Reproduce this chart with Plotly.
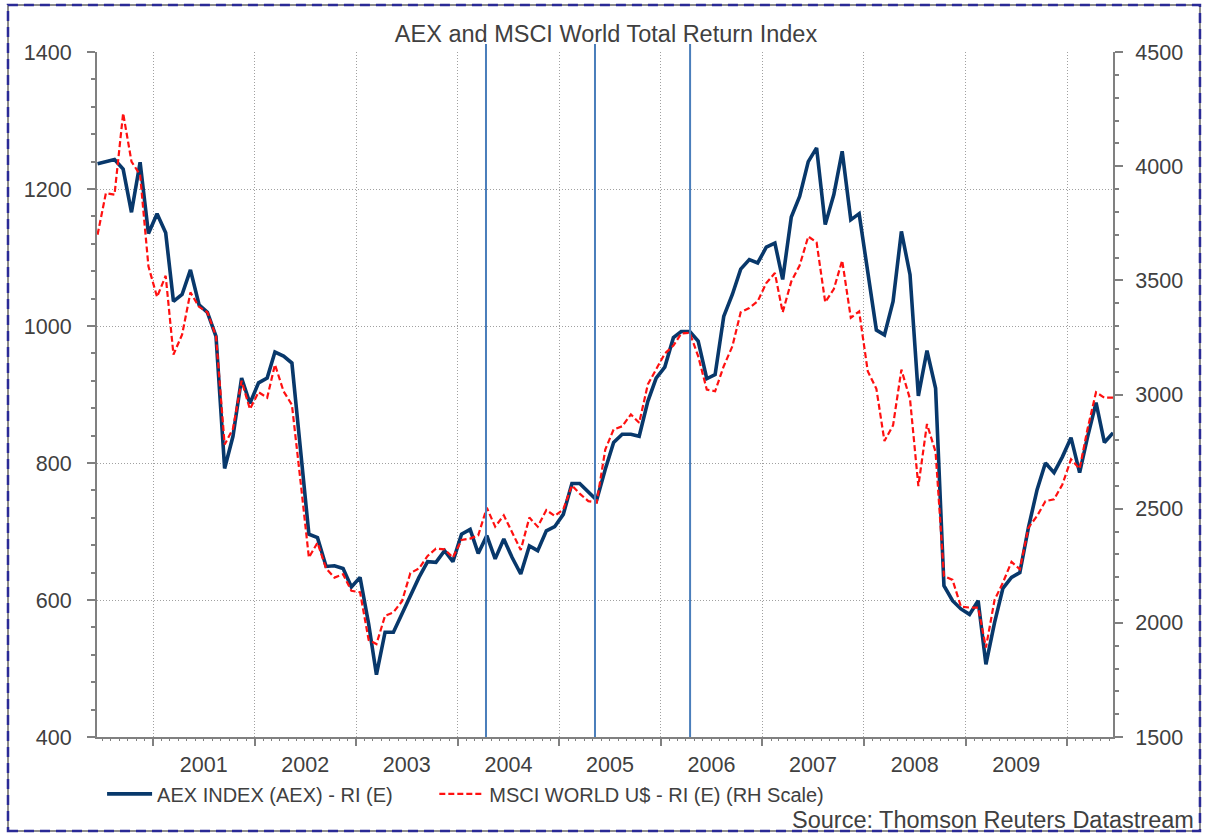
import plotly.graph_objects as go
import pandas as pd

# ---- data (monthly, mid-month, Jun 2000 - Jun 2010) ----
start_month = "2000-06-15"
aex = [1237, 1240, 1243, 1229, 1166, 1239, 1135, 1164, 1136, 1036,
       1046, 1082, 1031, 1020, 985, 792, 839, 924, 887, 917,
       924, 962, 956, 946, 815, 696, 691, 649, 650, 646,
       619, 633, 565, 491, 553, 553, 580, 607, 633, 656,
       655, 672, 656, 696, 703, 668, 694, 660, 689, 662,
       638, 679, 672, 701, 707, 725, 770, 770, 757, 746,
       791, 830, 842, 842, 839, 890, 924, 940, 983, 992,
       992, 978, 923, 929, 1014, 1046, 1083, 1097, 1092, 1115,
       1121, 1068, 1159, 1189, 1240, 1260, 1148, 1192, 1255, 1155,
       1164, 1082, 994, 987, 1036, 1138, 1075, 898, 964, 909,
       621, 599, 587, 579, 599, 506, 567, 617, 633, 640,
       706, 761, 800, 786, 809, 837, 786, 837, 888, 830, 844]
msci = [3700, 3882, 3875, 4232, 4020, 3962, 3561, 3427, 3520, 3175,
        3262, 3447, 3384, 3360, 3255, 2781, 2850, 3060, 2936, 3010,
        2986, 3131, 3014, 2955, 2620, 2286, 2351, 2238, 2198, 2213,
        2140, 2134, 1925, 1907, 2031, 2046, 2095, 2218, 2238, 2293,
        2325, 2322, 2286, 2363, 2369, 2383, 2504, 2421, 2471, 2395,
        2319, 2461, 2421, 2494, 2468, 2497, 2602, 2566, 2533, 2526,
        2759, 2847, 2861, 2913, 2876, 3044, 3109, 3179, 3214, 3267,
        3270, 3168, 3022, 3014, 3124, 3211, 3360, 3379, 3408, 3488,
        3532, 3360, 3495, 3565, 3692, 3666, 3404, 3462, 3587, 3336,
        3364, 3102, 3025, 2796, 2865, 3109, 2980, 2599, 2871, 2748,
        2205, 2188, 2071, 2067, 2067, 1892, 2100, 2176, 2267, 2235,
        2417, 2468, 2533, 2541, 2606, 2716, 2675, 2847, 3010, 2986, 2986]
event_dates = ["2004-04-12", "2005-05-09", "2006-04-16"]
year_labels = ["2001", "2002", "2003", "2004", "2005", "2006", "2007", "2008", "2009"]
x_range = ["2000-06-13", "2010-06-15"]

dates = [pd.Timestamp(start_month) + pd.DateOffset(months=i) for i in range(len(aex))]
year_mid = [f"{y}-07-02" for y in year_labels]

FONT = "Liberation Sans, Arial, sans-serif"
TXT = "#404040"
AX = "#808080"
GRID = "#a0a0a0"

fig = go.Figure()
fig.add_trace(go.Scatter(x=dates, y=aex, mode="lines", name="AEX INDEX (AEX) - RI (E)",
                         line=dict(color="#08386b", width=3.6), yaxis="y", xaxis="x", legend="legend"))
fig.add_trace(go.Scatter(x=dates, y=msci, mode="lines", name="MSCI WORLD U$ - RI (E) (RH Scale)",
                         line=dict(color="#ff1010", width=2.2, dash="6px,3px"), yaxis="y2", xaxis="x",
                         legend="legend2"))
# invisible trace carrying the monthly tick axis
fig.add_trace(go.Scatter(x=[dates[0]], y=[aex[0]], mode="markers", marker=dict(opacity=0),
                         showlegend=False, hoverinfo="skip", xaxis="x2", yaxis="y"))

for d in event_dates:
    fig.add_shape(type="line", xref="x", yref="paper", x0=d, x1=d, y0=0, y1=1.0117,
                  line=dict(color="#4a7ebb", width=2))

# outer frame: grey solid + navy dashes
fig.add_shape(type="rect", xref="paper", yref="paper", x0=-0.0876, x1=1.0856, y0=-0.1372, y1=1.0686,
              line=dict(color="#8c8c8c", width=2), layer="below")
fig.add_shape(type="rect", xref="paper", yref="paper", x0=-0.0876, x1=1.0856, y0=-0.1372, y1=1.0686,
              line=dict(color="#2a2a96", width=2.5, dash="10px,6px"), layer="below")

fig.add_annotation(text="Source: Thomson Reuters Datastream", xref="paper", yref="paper",
                   x=1.0817, y=-0.121, xanchor="right", yanchor="middle", showarrow=False,
                   font=dict(family=FONT, size=23.5, color=TXT))

legend_common = dict(orientation="h", xanchor="left", yanchor="middle", y=-0.083,
                     font=dict(family=FONT, size=20, color=TXT), itemwidth=45,
                     bgcolor="rgba(0,0,0,0)")

fig.update_layout(
    width=1208, height=834,
    margin=dict(l=97, r=95, t=52, b=97),
    paper_bgcolor="white", plot_bgcolor="white",
    font=dict(family=FONT, color=TXT),
    title=dict(text="AEX and MSCI World Total Return Index", x=0.501, xref="paper",
               y=1 - 34 / 834, yref="container", xanchor="center", yanchor="middle",
               font=dict(family=FONT, size=23.5, color=TXT)),
    showlegend=True,
    legend=dict(x=0.005, **legend_common),
    legend2=dict(x=0.332, **legend_common),
    xaxis=dict(type="date", range=x_range, tickmode="array", tickvals=year_mid, ticktext=year_labels,
               ticks="outside", ticklen=7, tickcolor="rgba(0,0,0,0)", showgrid=False,
               tickfont=dict(family=FONT, size=21.5, color=TXT),
               showline=True, linecolor=AX, linewidth=2, zeroline=False,
               minor=dict(dtick="M12", tick0="2001-01-01", ticks="outside", ticklen=7,
                          tickcolor=AX, tickwidth=1.5, showgrid=True, gridcolor=GRID,
                          griddash="1px,2px", gridwidth=1)),
    xaxis2=dict(type="date", range=x_range, overlaying="x", side="bottom", anchor="y",
                showticklabels=False, tickmode="linear", tick0="2000-01-01", dtick="M1",
                ticks="outside", ticklen=3, tickcolor=AX, tickwidth=1, showgrid=False,
                showline=False, zeroline=False),
    yaxis=dict(range=[400, 1400], tickmode="linear", tick0=400, dtick=200,
               ticks="outside", ticklen=8, tickcolor=AX, tickwidth=1.5,
               showline=True, linecolor=AX, linewidth=2, zeroline=False,
               showgrid=True, gridcolor=GRID, griddash="1px,2px", gridwidth=1,
               tickfont=dict(family=FONT, size=21.5, color=TXT), ticklabelstandoff=11,
               minor=dict(dtick=40, tick0=400, ticks="outside", ticklen=4, tickcolor=AX, showgrid=False)),
    yaxis2=dict(range=[1500, 4500], tickmode="linear", tick0=1500, dtick=500, overlaying="y",
                side="right", ticks="outside", ticklen=8, tickcolor=AX, tickwidth=1.5,
                showline=True, linecolor=AX, linewidth=2, zeroline=False, showgrid=False,
                tickfont=dict(family=FONT, size=21.5, color=TXT), ticklabelstandoff=8,
                minor=dict(dtick=100, tick0=1500, ticks="outside", ticklen=4, tickcolor=AX, showgrid=False)),
)

fig.write_html("out.html", config={"displayModeBar": False},
               post_script="document.body.style.margin='0';document.body.style.overflow='hidden';")
